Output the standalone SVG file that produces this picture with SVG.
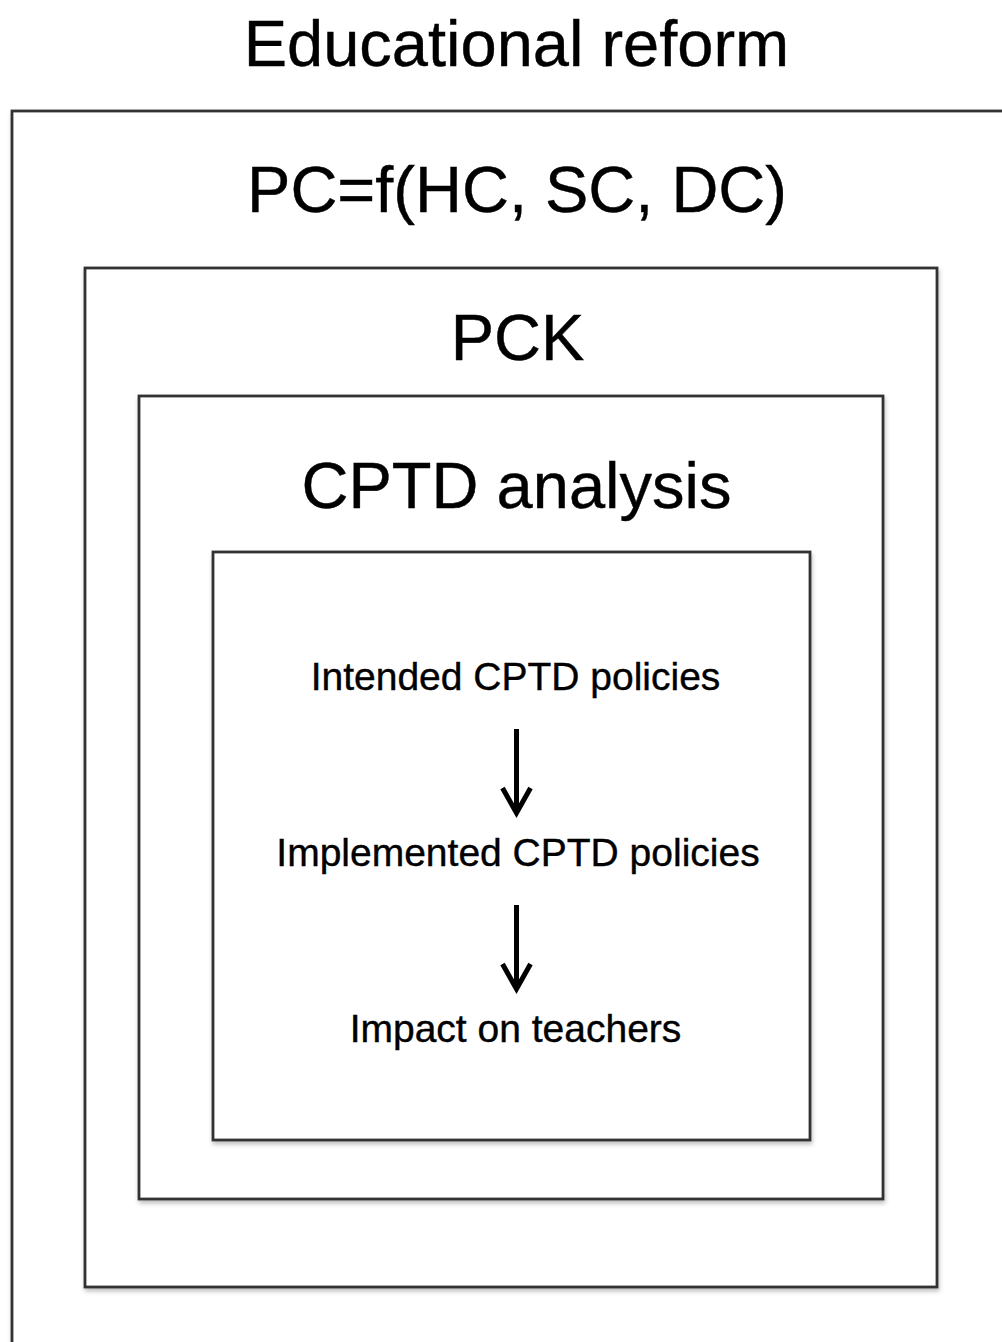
<svg xmlns="http://www.w3.org/2000/svg" width="1002" height="1342" viewBox="0 0 1002 1342">
  <defs>
    <filter id="soft" x="-5%" y="-5%" width="110%" height="110%">
      <feDropShadow dx="1" dy="3" stdDeviation="2" flood-color="#000" flood-opacity="0.25"/>
    </filter>
  </defs>
  <style>
    .frame { fill: #fff; stroke: #333; stroke-width: 2.8; filter: url(#soft); }
    .big { font-family: "Liberation Sans", Arial, sans-serif; font-size: 65px; fill: #000; stroke: #000; stroke-width: 0.4; text-anchor: middle; }
    .small { font-family: "Liberation Sans", Arial, sans-serif; font-size: 39px; fill: #000; stroke: #000; stroke-width: 0.4; text-anchor: middle; }
    .flow { stroke: #000; stroke-width: 5; fill: none; }
  </style>
  <rect width="1002" height="1342" fill="#fff"/>

  <text class="big" x="516.5" y="66">Educational reform</text>

  <g id="educational-reform">
    <rect class="frame" x="12" y="111" width="1010" height="1260"/>
    <text class="big" x="517" y="212">PC=f(HC, SC, DC)</text>
  </g>

  <g id="pck">
    <rect class="frame" x="85" y="268" width="852" height="1019"/>
    <text class="big" x="517.5" y="360">PCK</text>
  </g>

  <g id="cptd-analysis">
    <rect class="frame" x="139" y="396" width="744" height="803"/>
    <text class="big" x="516.5" y="508">CPTD analysis</text>
  </g>

  <g id="policy-chain">
    <rect class="frame" x="213" y="552" width="597" height="588"/>
  </g>

  <g id="intended">
    <text class="small" x="515.5" y="690">Intended CPTD policies</text>
  </g>
  <g id="implemented">
    <text class="small" x="518" y="866">Implemented CPTD policies</text>
  </g>
  <g id="impact">
    <text class="small" x="515.5" y="1042">Impact on teachers</text>
  </g>

  <g id="connectors">
    <line class="flow" x1="516.5" y1="729" x2="516.5" y2="812"/>
    <polyline class="flow" points="502.5,788 516.5,813 530.5,788"/>
    <line class="flow" x1="516.5" y1="905" x2="516.5" y2="988"/>
    <polyline class="flow" points="502.5,964 516.5,989 530.5,964"/>
  </g>
</svg>
